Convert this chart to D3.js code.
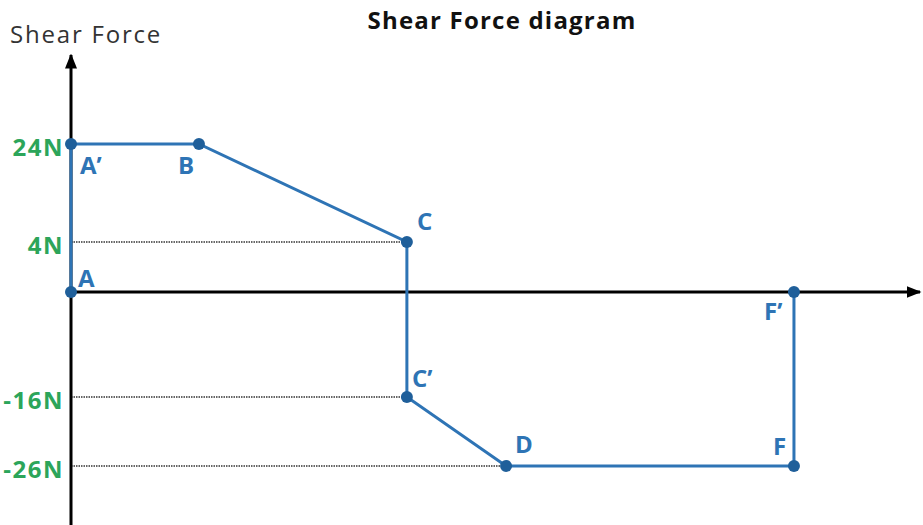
<!DOCTYPE html>
<html lang="en">
<head>
<meta charset="utf-8">
<title>Shear Force diagram</title>
<script src="https://cdnjs.cloudflare.com/ajax/libs/d3/7.8.5/d3.min.js"></script>
<style>
  body { margin: 0; background: #fff; }
  svg { display: block; font-family: "Open Sans", sans-serif; }
</style>
</head>
<body>
<svg id="chart" width="923" height="525"></svg>
<script>
// beam positions (arbitrary units) and shear values (N)
var pointNames = ["A", "A\u2019", "B", "C", "C\u2019", "D", "F", "F\u2019"];
var positions  = [0, 0, 2, 5.25, 5.25, 6.8, 11.3, 11.3];
var shear      = [0, 24, 24, 4, -16, -26, -26, 0];

// values marked on the shear axis
var tickValues = [24, 4, -16, -26];
var tickLabels = ["24N", "4N", "-16N", "-26N"];
// which point each dotted guide runs to
var guideTo    = ["", "C", "C\u2019", "D"];

var blue = "#2e74b5", dot = "#1f5f9a", green = "#2ca55a";

var svg = d3.select("#chart");

// the diagram is drawn schematically, not to scale
var x = d3.scaleLinear().domain([0, 13.27]).range([71, 920]);
var y = d3.scaleLinear()
    .domain([-26, -16, 0, 4, 24])
    .range([466, 397, 292, 242, 144]);

var pts = pointNames.map(function(n, i) {
  return {name: n, x: positions[i], v: shear[i]};
});

// dotted guide lines
svg.append("g").selectAll("line")
  .data(tickValues.map(function(v, i) { return {v: v, to: guideTo[i]}; }).filter(function(d) { return d.to; }))
  .enter().append("line")
  .attr("x1", x(0))
  .attr("x2", function(d) { return x(pts.find(function(p) { return p.name == d.to; }).x); })
  .attr("y1", function(d) { return y(d.v); })
  .attr("y2", function(d) { return y(d.v); })
  .attr("stroke", "#333")
  .attr("stroke-width", 1.3)
  .attr("stroke-dasharray", "1.5,1");

// axes with arrows
svg.append("defs").append("marker")
  .attr("id", "arrow")
  .attr("viewBox", "0 0 10 10")
  .attr("refX", 9).attr("refY", 5)
  .attr("markerWidth", 5).attr("markerHeight", 5)
  .attr("markerUnits", "strokeWidth")
  .attr("orient", "auto")
  .append("path").attr("d", "M0,1 L10,5 L0,9 Z").attr("fill", "#000");

svg.append("line")
  .attr("x1", x(0)).attr("x2", x(0))
  .attr("y1", 525).attr("y2", 55)
  .attr("stroke", "#000").attr("stroke-width", 3)
  .attr("marker-end", "url(#arrow)");

svg.append("line")
  .attr("x1", x(0)).attr("x2", 920)
  .attr("y1", y(0)).attr("y2", y(0))
  .attr("stroke", "#000").attr("stroke-width", 3)
  .attr("marker-end", "url(#arrow)");

// shear force line
var line = d3.line().x(function(d) { return x(d.x); }).y(function(d) { return y(d.v); });
svg.append("path")
  .datum(pts)
  .attr("d", line)
  .attr("fill", "none")
  .attr("stroke", blue)
  .attr("stroke-width", 3);

svg.append("g").selectAll("circle")
  .data(pts)
  .enter().append("circle")
  .attr("cx", function(d) { return x(d.x); })
  .attr("cy", function(d) { return y(d.v); })
  .attr("r", 6)
  .attr("fill", dot);

// value labels on the shear axis
svg.append("g").selectAll("text")
  .data(tickValues)
  .enter().append("text")
  .attr("x", x(0) - 7)
  .attr("y", function(d) { return y(d) + 12; })
  .attr("text-anchor", "end")
  .attr("font-size", 24)
  .attr("font-weight", "bold")
  .attr("letter-spacing", 1.5)
  .attr("fill", green)
  .text(function(d, i) { return tickLabels[i]; });

// point labels
var labelOffset = {
  "A": [7, -5], "A\u2019": [9, 30], "B": [-21, 30], "C": [10, -12],
  "C\u2019": [5, -10], "D": [9, -13], "F": [-21, -11], "F\u2019": [-30, 28]
};
svg.append("g").selectAll("text")
  .data(pts)
  .enter().append("text")
  .attr("x", function(d) { return x(d.x) + labelOffset[d.name][0]; })
  .attr("y", function(d) { return y(d.v) + labelOffset[d.name][1]; })
  .attr("font-size", 24)
  .attr("font-weight", "bold")
  .attr("fill", blue)
  .text(function(d) { return d.name; });

// titles
svg.append("text")
  .attr("x", 502).attr("y", 29)
  .attr("text-anchor", "middle")
  .attr("font-size", 24)
  .attr("font-weight", "bold")
  .attr("letter-spacing", 1.2)
  .attr("fill", "#111")
  .text("Shear Force diagram");

svg.append("text")
  .attr("x", 10).attr("y", 43)
  .attr("font-size", 24)
  .attr("letter-spacing", 1.8)
  .attr("fill", "#333")
  .text("Shear Force");
</script>
</body>
</html>
